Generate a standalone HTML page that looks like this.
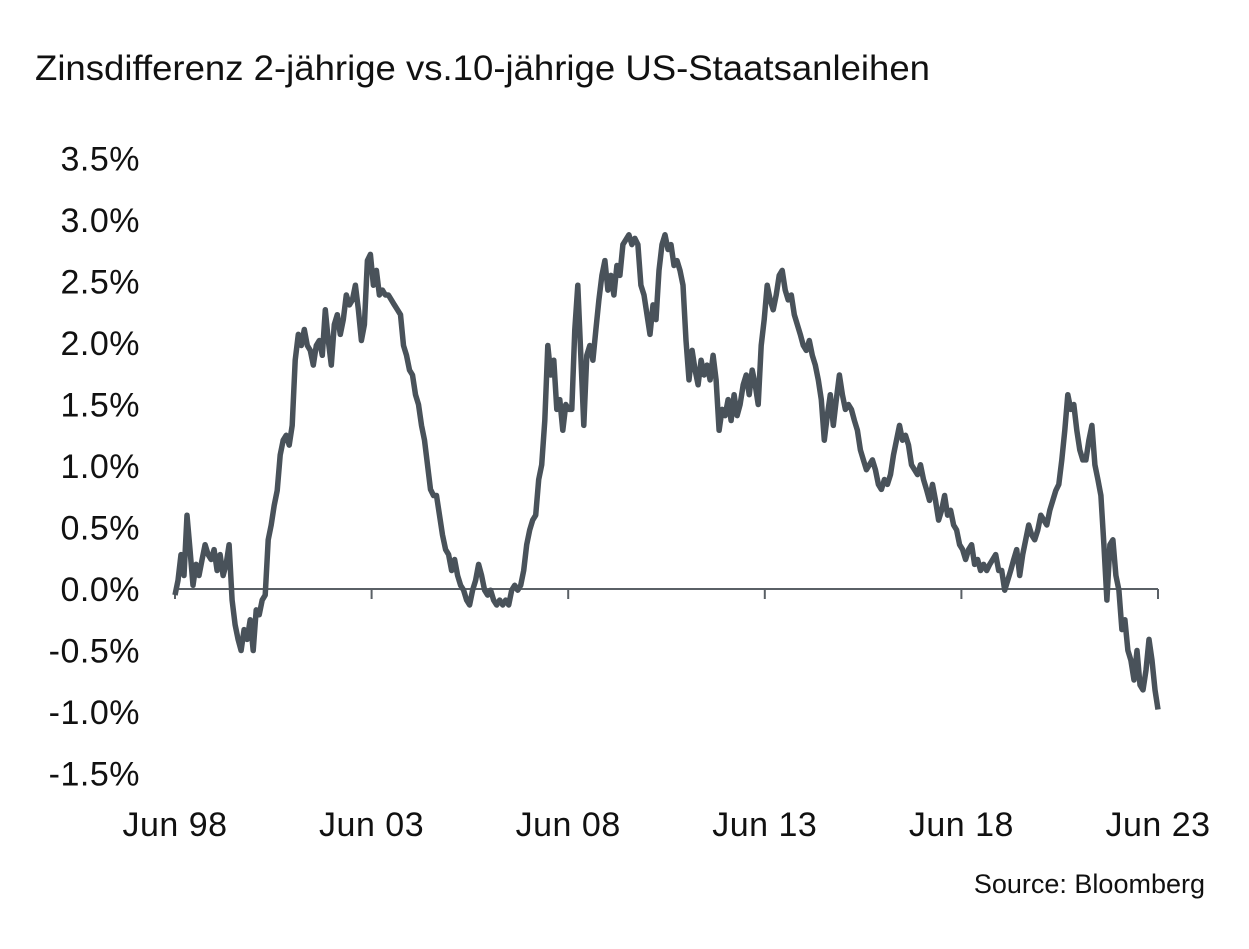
<!DOCTYPE html>
<html><head><meta charset="utf-8"><style>
html,body{margin:0;padding:0;background:#fff;}
svg{display:block;font-family:"Liberation Sans",Arial,sans-serif;}
</style></head><body>
<svg id="chart" width="1249" height="949" viewBox="0 0 1249 949" xmlns="http://www.w3.org/2000/svg">
<text x="35" y="80" font-size="35" textLength="895" lengthAdjust="spacingAndGlyphs" fill="#111">Zinsdifferenz 2-jährige vs.10-jährige US-Staatsanleihen</text>
<g id="yaxis"></g>
<g id="xaxis"></g>
<g id="series"></g>
<text x="1205" y="893" font-size="27" text-anchor="end" fill="#111">Source: Bloomberg</text>
</svg>
<script>
const yTicks=[3.5,3.0,2.5,2.0,1.5,1.0,0.5,0.0,-0.5,-1.0,-1.5];
const yTickLabels=["3.5%","3.0%","2.5%","2.0%","1.5%","1.0%","0.5%","0.0%","-0.5%","-1.0%","-1.5%"];
const xTicks=[1998.5,2003.5,2008.5,2013.5,2018.5,2023.5];
const xTickLabels=["Jun 98","Jun 03","Jun 08","Jun 13","Jun 18","Jun 23"];
const startYear=1998.5;
const endYear=2023.5;
const spreadValues=[-0.05,0.07,0.28,0.11,0.6,0.32,0.03,0.2,0.11,0.24,0.36,0.28,0.24,0.32,0.15,0.28,0.11,0.2,0.36,-0.09,-0.29,-0.41,-0.5,-0.33,-0.41,-0.25,-0.5,-0.17,-0.21,-0.09,-0.05,0.4,0.52,0.68,0.8,1.09,1.21,1.25,1.17,1.33,1.86,2.07,1.98,2.11,1.98,1.94,1.82,1.98,2.02,1.9,2.27,2.02,1.82,2.15,2.23,2.07,2.19,2.39,2.31,2.35,2.47,2.27,2.02,2.15,2.67,2.72,2.47,2.59,2.39,2.43,2.39,2.39,2.35,2.31,2.27,2.23,1.98,1.9,1.78,1.74,1.58,1.5,1.33,1.21,1.01,0.81,0.76,0.76,0.6,0.44,0.32,0.28,0.15,0.24,0.11,0.03,-0.01,-0.09,-0.13,-0.01,0.07,0.2,0.11,-0.01,-0.05,-0.01,-0.09,-0.13,-0.09,-0.13,-0.09,-0.13,-0.01,0.03,-0.01,0.03,0.15,0.36,0.48,0.56,0.6,0.89,1.01,1.37,1.98,1.74,1.86,1.46,1.54,1.29,1.5,1.46,1.46,2.11,2.47,1.9,1.33,1.9,1.98,1.86,2.11,2.35,2.55,2.67,2.43,2.55,2.39,2.63,2.55,2.8,2.84,2.88,2.8,2.85,2.8,2.47,2.39,2.23,2.07,2.31,2.19,2.59,2.8,2.88,2.76,2.8,2.63,2.67,2.59,2.47,2.02,1.7,1.94,1.78,1.66,1.86,1.74,1.82,1.7,1.9,1.7,1.29,1.46,1.41,1.54,1.37,1.58,1.41,1.5,1.66,1.74,1.58,1.78,1.66,1.5,1.98,2.19,2.47,2.35,2.27,2.39,2.55,2.59,2.43,2.35,2.39,2.23,2.15,2.07,1.98,1.94,2.02,1.9,1.82,1.7,1.54,1.21,1.41,1.58,1.33,1.54,1.74,1.58,1.46,1.5,1.46,1.37,1.29,1.13,1.05,0.97,1.01,1.05,0.97,0.85,0.81,0.89,0.85,0.93,1.09,1.21,1.33,1.21,1.25,1.17,1.01,0.97,0.93,1.01,0.89,0.81,0.72,0.85,0.72,0.56,0.64,0.76,0.6,0.64,0.52,0.48,0.36,0.32,0.24,0.32,0.36,0.2,0.24,0.15,0.2,0.15,0.2,0.24,0.28,0.15,0.15,-0.01,0.07,0.15,0.24,0.32,0.11,0.28,0.4,0.52,0.44,0.4,0.48,0.6,0.56,0.52,0.64,0.72,0.8,0.85,1.05,1.29,1.58,1.46,1.5,1.29,1.13,1.05,1.05,1.21,1.33,1.01,0.89,0.76,0.36,-0.09,0.36,0.4,0.11,-0.01,-0.33,-0.25,-0.5,-0.58,-0.74,-0.5,-0.78,-0.82,-0.66,-0.41,-0.58,-0.82,-0.98];

const NS="http://www.w3.org/2000/svg";
const x0=175,x1=1158,yZero=589,pxPerPct=123;
function xScale(t){return x0+(t-startYear)/(endYear-startYear)*(x1-x0);}
function yScale(v){return yZero-v*pxPerPct;}
const yaxis=document.getElementById('yaxis');
yTicks.forEach((v,i)=>{
  const t=document.createElementNS(NS,'text');
  
  
  t.setAttribute('x',140);t.setAttribute('y',yScale(v)+12);
  t.setAttribute('text-anchor','end');t.setAttribute('font-size','34');t.setAttribute('letter-spacing','0.5');t.setAttribute('fill','#111');
  t.textContent=yTickLabels[i];yaxis.appendChild(t);
});
const xaxis=document.getElementById('xaxis');
const base=document.createElementNS(NS,'line');


base.setAttribute('x1',x0);base.setAttribute('x2',x1);base.setAttribute('y1',yScale(0));base.setAttribute('y2',yScale(0));
base.setAttribute('stroke','#5a6066');base.setAttribute('stroke-width','2');xaxis.appendChild(base);
xTicks.forEach((t,i)=>{
  const l=document.createElementNS(NS,'line');
  
  
  l.setAttribute('x1',xScale(t));l.setAttribute('x2',xScale(t));l.setAttribute('y1',yScale(0));l.setAttribute('y2',yScale(0)+10);
  l.setAttribute('stroke','#5a6066');l.setAttribute('stroke-width','2');xaxis.appendChild(l);
  const tx=document.createElementNS(NS,'text');
  
  
  tx.setAttribute('x',xScale(t));tx.setAttribute('y',836);tx.setAttribute('text-anchor','middle');
  tx.setAttribute('font-size','34');tx.setAttribute('letter-spacing','0.5');tx.setAttribute('fill','#111');tx.textContent=xTickLabels[i];xaxis.appendChild(tx);
});
const n=spreadValues.length;
let d='';
spreadValues.forEach((v,i)=>{
  const t=startYear+i*(endYear-startYear)/(n-1);
  d+=(i?'L':'M')+xScale(t).toFixed(1)+','+yScale(v).toFixed(1);
});
const p=document.createElementNS(NS,'path');


p.setAttribute('d',d);p.setAttribute('fill','none');p.setAttribute('stroke','#49525a');
p.setAttribute('stroke-width','5.5');p.setAttribute('stroke-linejoin','round');
document.getElementById('series').appendChild(p);
</script>
</body></html>
